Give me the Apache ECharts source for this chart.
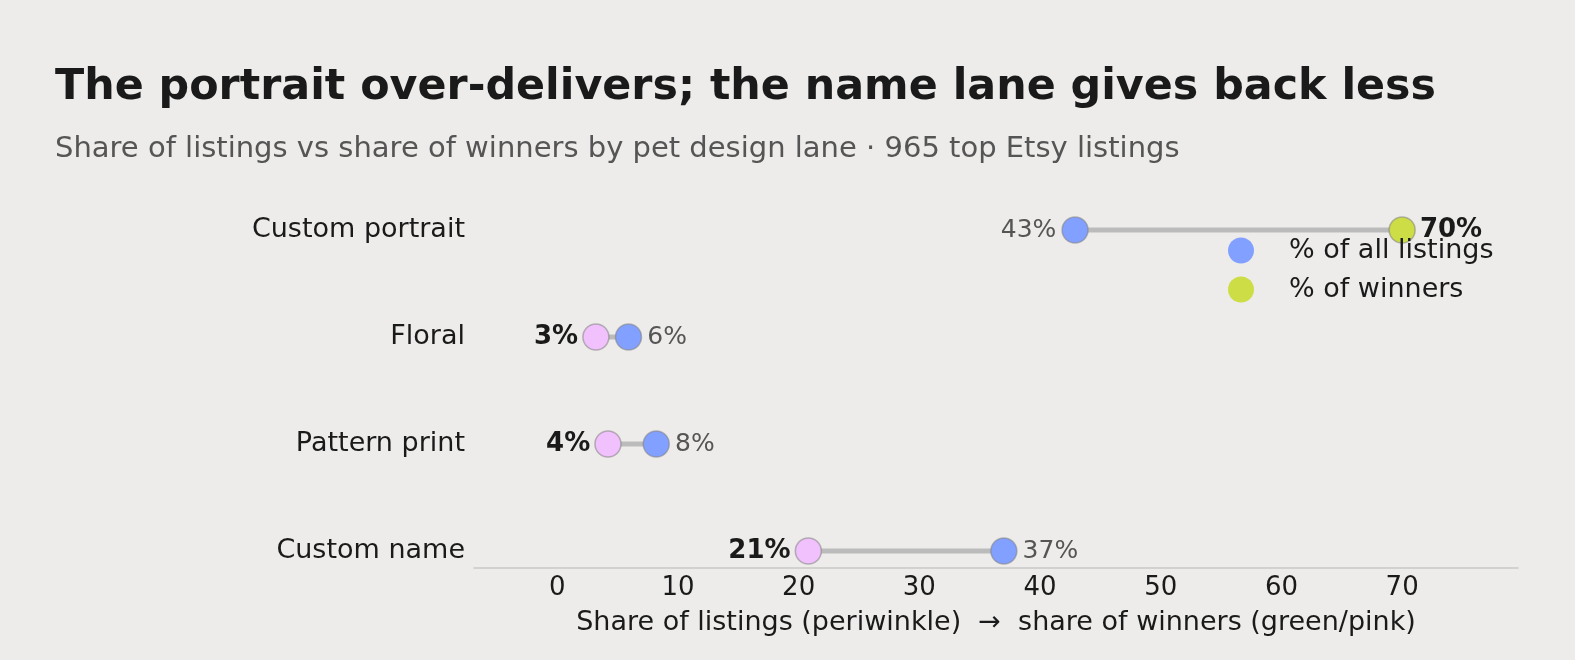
<!DOCTYPE html>
<html lang="en">
<head>
    <meta charset="UTF-8">
    <title>Pet design lanes</title>
    <style>
        html, body { margin: 0; padding: 0; background: #edecea; }
        #chart { width: 1575px; height: 660px; }
    </style>
    <script type="text/javascript" src="https://cdn.jsdelivr.net/npm/echarts@6/dist/echarts.min.js"></script>
</head>
<body>
<div id="chart"></div>
<script>
    // design lanes, top to bottom
    var lanes = ['Custom portrait', 'Floral', 'Pattern print', 'Custom name'];
    // % of all listings per lane
    var listingShare = [42.9, 5.9, 8.2, 37.0];
    // % of winners per lane
    var winnerShare = [70.0, 3.2, 4.2, 20.8];

    var periwinkle = '#82a0ff';
    var green = '#cddd45';
    var pink = '#f0c1fc';
    var font = 'DejaVu Sans';

    var chart = echarts.init(document.getElementById('chart'));

    var listingData = [];
    var winnerData = [];
    var connectors = [];
    for (var i = 0; i < lanes.length; i++) {
        var up = winnerShare[i] > listingShare[i];
        connectors.push([listingShare[i], winnerShare[i], i]);
        listingData.push({
            value: [listingShare[i], i],
            label: { position: up ? 'left' : 'right' }
        });
        winnerData.push({
            value: [winnerShare[i], i],
            itemStyle: { color: up ? green : pink },
            label: { position: up ? 'right' : 'left' }
        });
    }

    var dotBorder = { borderColor: 'rgba(130,130,130,0.55)', borderWidth: 1.5, opacity: 1 };

    var option = {
        backgroundColor: '#edecea',
        textStyle: { fontFamily: font },
        title: {
            text: 'The portrait over-delivers; the name lane gives back less',
            subtext: 'Share of listings vs share of winners by pet design lane \u00b7 965 top Etsy listings',
            left: 50,
            top: 61,
            itemGap: 26,
            textStyle: { fontFamily: font, fontSize: 42.8, fontWeight: 'bold', color: '#1a1a1a' },
            subtextStyle: { fontFamily: font, fontSize: 29, color: '#555555' }
        },
        legend: {
            orient: 'vertical',
            left: 1223,
            top: 232,
            icon: 'circle',
            itemWidth: 26,
            itemHeight: 26,
            itemGap: 12,
            itemStyle: { borderWidth: 0, opacity: 1 },
            textStyle: { fontFamily: font, fontSize: 27, color: '#1a1a1a', padding: [0, 0, 0, 30] },
            data: ['% of all listings', '% of winners']
        },
        grid: { left: 474, right: 57, top: 230, bottom: 109, containLabel: false },
        xAxis: {
            type: 'value',
            min: -6.9,
            max: 79.6,
            splitNumber: 8,
            offset: 17,
            axisLine: { show: true, onZero: false, lineStyle: { color: '#c8c8c8', width: 1.5 } },
            axisTick: { show: false },
            splitLine: { show: false },
            axisLabel: {
                fontFamily: font, fontSize: 26, color: '#1a1a1a', margin: 7,
                showMinLabel: false, showMaxLabel: false,
                formatter: function (v) { return v % 10 === 0 ? String(v) : ''; }
            },
            name: 'Share of listings (periwinkle)  \u2192  share of winners (green/pink)',
            nameLocation: 'middle',
            nameGap: 41,
            nameTextStyle: { fontFamily: font, fontSize: 27, color: '#1a1a1a' }
        },
        yAxis: {
            type: 'value',
            min: 0,
            max: 3,
            interval: 1,
            inverse: true,
            axisLine: { show: false },
            axisTick: { show: false },
            splitLine: { show: false },
            axisLabel: {
                fontFamily: font, fontSize: 27, color: '#1a1a1a', margin: 9,
                formatter: function (v) { return lanes[v] || ''; }
            }
        },
        series: [
            {
                type: 'custom',
                name: 'connector',
                silent: true,
                clip: false,
                z: 1,
                data: connectors,
                renderItem: function (params, api) {
                    var a = api.coord([api.value(0), api.value(2)]);
                    var b = api.coord([api.value(1), api.value(2)]);
                    return {
                        type: 'line',
                        shape: { x1: a[0], y1: a[1], x2: b[0], y2: b[1] },
                        style: { stroke: '#bbbbbb', lineWidth: 5 }
                    };
                }
            },
            {
                type: 'scatter',
                name: '% of all listings',
                z: 3,
                symbolSize: 26,
                clip: false,
                color: periwinkle,
                itemStyle: dotBorder,
                label: {
                    show: true,
                    distance: 5,
                    fontFamily: font,
                    fontSize: 25,
                    color: '#555555',
                    formatter: function (p) { return Math.round(p.value[0]) + '%'; }
                },
                data: listingData
            },
            {
                type: 'scatter',
                name: '% of winners',
                z: 3,
                symbolSize: 26,
                clip: false,
                color: green,
                itemStyle: dotBorder,
                label: {
                    show: true,
                    distance: 4,
                    fontFamily: font,
                    fontSize: 26,
                    fontWeight: 'bold',
                    color: '#1a1a1a',
                    formatter: function (p) { return Math.round(p.value[0]) + '%'; }
                },
                data: winnerData
            }
        ]
    };
    chart.setOption(option);
</script>
</body>
</html>
